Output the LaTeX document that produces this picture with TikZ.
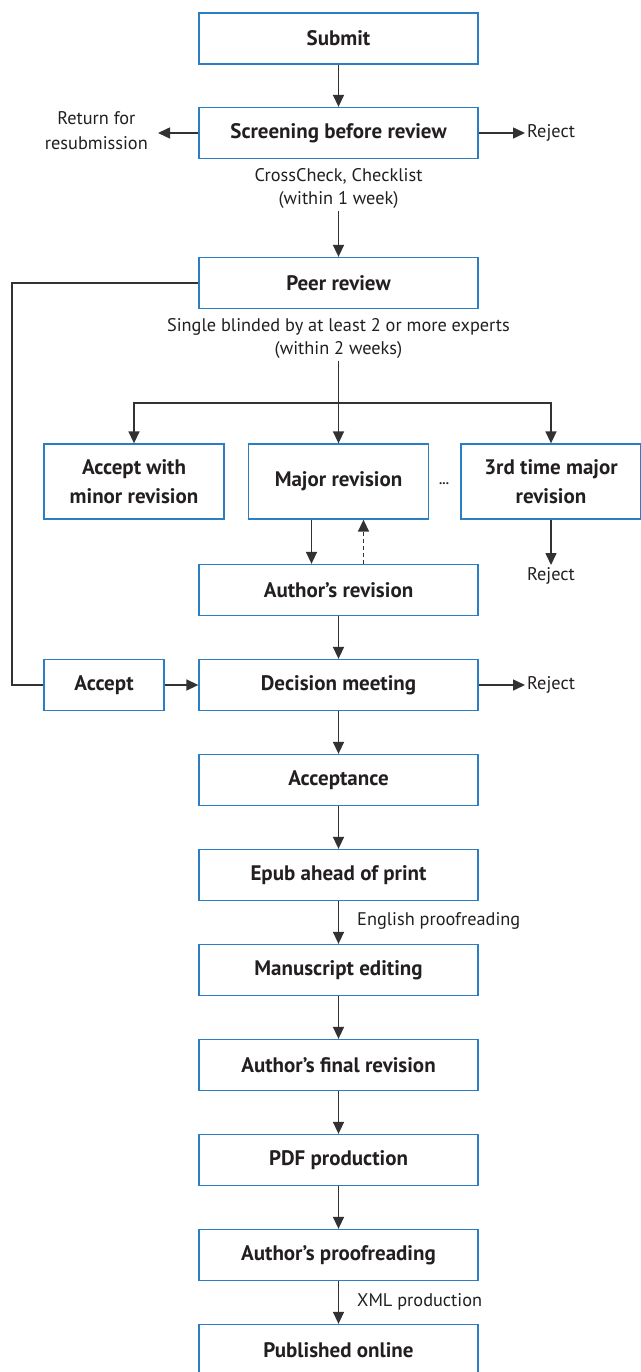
\documentclass[tikz,border=0pt]{standalone}
\usepackage{fontspec}
\setmainfont{PT Sans}
\usepackage{tikz}
\usetikzlibrary{arrows.meta}

\definecolor{boxblue}{RGB}{43,126,196}
\definecolor{linegray}{RGB}{50,50,50}
\definecolor{inkdark}{RGB}{35,31,32}

\begin{document}
\begin{tikzpicture}[x=1pt, y=-1pt,
    stage/.style={draw=boxblue, line width=1.3pt, minimum width=279pt, minimum height=51pt,
      inner sep=2pt, text=inkdark, font=\fontsize{21}{29}\selectfont\bfseries, align=center},
    branch/.style={stage, minimum width=180pt, minimum height=75pt},
    note/.style={text=inkdark, font=\fontsize{18.3}{23}\selectfont, align=center, inner sep=2pt},
    flow/.style={draw=linegray, line width=1.5pt, -{Triangle[length=12pt,width=11pt]}}]
  \useasboundingbox (0,0) rectangle (640,1372);
  % main column
  \node[stage] (submit) at (338.5,38.5) {Submit};
  \node[stage] (screen) at (338.5,133) {Screening before review};
  \node[note, anchor=east, font=\fontsize{18.3}{25}\selectfont] (resub) at (150,131) {Return for\\resubmission};
  \node[note, anchor=west] (rejscreen) at (525,133) {Reject};
  \node[note] (check) at (338.5,188.5) {CrossCheck, Checklist\\(within 1 week)};
  \node[stage] (peer) at (338.5,283) {Peer review};
  \node[note] (blind) at (338.5,338.5) {Single blinded by at least 2 or more experts\\(within 2 weeks)};
  % review outcomes
  \node[branch] (minorrev) at (134,481.5) {Accept with\\minor revision};
  \node[branch] (majorrev) at (338.5,481.5) {Major revision};
  \node[branch] (thirdrev) at (551,481.5) {3rd time major\\revision};
  \node[note, font=\fontsize{13}{14}\selectfont\bfseries] (dots) at (444,484) {...};
  \node[note, anchor=north] (rejthird) at (551,565) {Reject};
  \node[stage] (authrev) at (338.5,590) {Author's revision};
  \node[stage] (decision) at (338.5,685) {Decision meeting};
  \node[stage, minimum width=120pt] (accept) at (104,685) {Accept};
  \node[note, anchor=west] (rejdecision) at (525,685) {Reject};
  \coordinate (split) at (338.5,403);
  \coordinate (leftrail) at (12,283);
  % production
  \node[stage] (acceptance) at (338.5,780) {Acceptance};
  \node[stage] (epub) at (338.5,875) {Epub ahead of print};
  \node[note, anchor=west] (english) at (355,921) {English proofreading};
  \node[stage] (editing) at (338.5,970) {Manuscript editing};
  \node[stage] (finalrev) at (338.5,1065) {Author's final revision};
  \node[stage] (pdf) at (338.5,1160) {PDF production};
  \node[stage] (proofread) at (338.5,1255) {Author's proofreading};
  \node[note, anchor=west] (xml) at (355,1302) {XML production};
  \node[stage] (published) at (338.5,1350) {Published online};

  \draw[flow] (submit) -- (screen);
  \draw[flow] (screen.west) -- ([xshift=8pt]screen.west -| resub.east);
  \draw[flow] (screen.east) -- (rejscreen.west);
  \draw[flow] (check.south) -- (peer.north);
  \draw[flow] (blind.south) -- (majorrev.north);
  \draw[flow] (split) -| (minorrev.north);
  \draw[flow] (split) -| (thirdrev.north);
  \draw[flow] ([xshift=-27pt]majorrev.south) -- ([xshift=-27pt]majorrev.south |- authrev.north);
  \draw[flow, dash pattern=on 4pt off 3pt] ([xshift=25pt]majorrev.south |- authrev.north) -- ([xshift=25pt]majorrev.south);
  \draw[flow] (thirdrev.south) -- (rejthird.north);
  \draw[flow] (authrev) -- (decision);
  \draw[flow] (accept) -- (decision);
  \draw[flow] (decision.east) -- (rejdecision.west);
  \draw[draw=linegray, line width=1.5pt] (peer.west) -- (leftrail) |- (accept.west);
  \draw[flow] (decision) -- (acceptance);
  \draw[flow] (acceptance) -- (epub);
  \draw[flow] (epub) -- (editing);
  \draw[flow] (editing) -- (finalrev);
  \draw[flow] (finalrev) -- (pdf);
  \draw[flow] (pdf) -- (proofread);
  \draw[flow] (proofread) -- (published);
\end{tikzpicture}
\end{document}
